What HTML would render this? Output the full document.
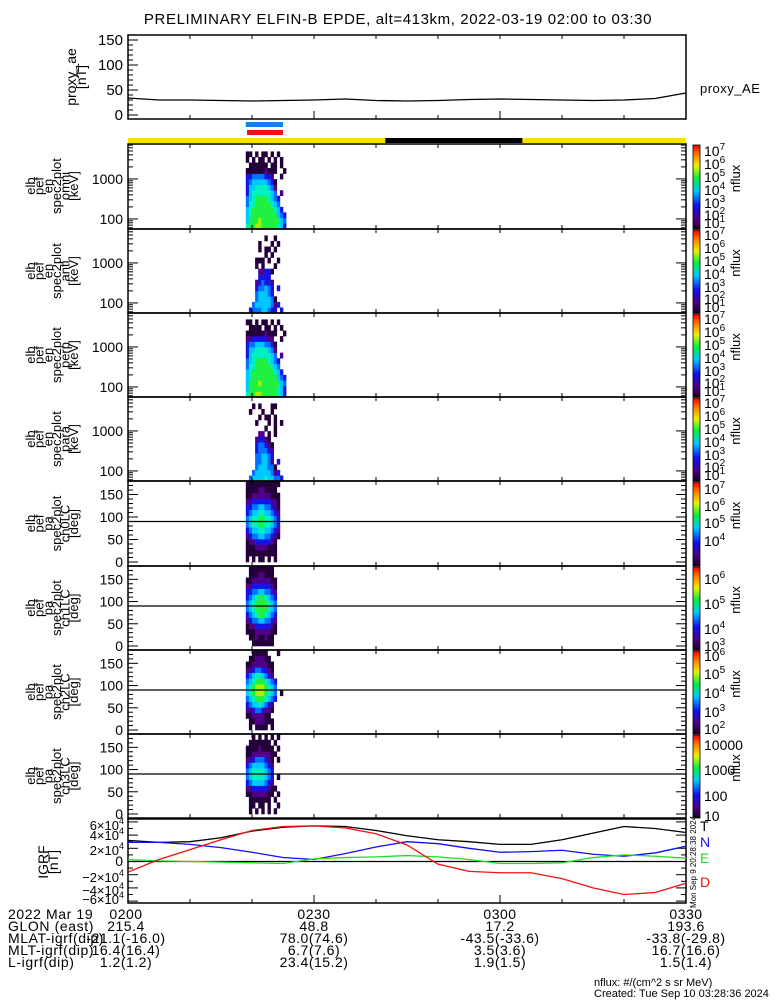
<!DOCTYPE html>
<html><head><meta charset="utf-8">
<style>
html,body{margin:0;padding:0;background:#fff;}
svg{display:block;font-family:"Liberation Sans",sans-serif;}
</style></head>
<body>
<svg id="chart" width="775" height="1000" viewBox="0 0 775 1000" xmlns="http://www.w3.org/2000/svg">
<text x="398" y="24" font-size="15" letter-spacing="0.6" text-anchor="middle">PRELIMINARY ELFIN-B EPDE, alt=413km, 2022-03-19 02:00 to 03:30</text>
</svg>
<script>
// ---------- data ----------
const timeSteps = [0,5,10,15,20,25,30,35,40,45,50,55,60,65,70,75,80,85,90];
const proxyAE = [34,30,30,29,28,29,30,32,29,28,29,31,32,31,30,29,30,33,44];
const igrfT = [3.2,2.9,3.0,3.6,4.6,5.2,5.4,5.3,4.7,3.9,3.3,3.0,2.6,2.6,3.3,4.3,5.3,5.0,4.4];
const igrfN = [2.9,2.9,2.6,2.1,1.4,0.6,0.3,1.2,2.2,3.0,2.7,2.0,1.4,1.5,1.7,1.1,0.8,1.3,2.3];
const igrfE = [0.3,0.1,0.0,-0.1,-0.2,-0.3,0.4,0.6,0.7,0.9,0.7,0.3,-0.3,-0.3,-0.2,0.6,1.0,0.8,0.5];
const igrfD = [-1.6,0.3,1.8,3.3,4.7,5.3,5.4,5.1,4.2,2.5,-0.4,-1.5,-1.7,-1.7,-2.6,-4.0,-5.0,-4.7,-3.3];
const specTimes = [19.0,19.5,20.0,20.5,21.0,21.5,22.0,22.5,23.0,23.5,24.0,24.5,25.0];
const energyEdges = [56,77,106,146,200,276,380,522,718,988,1360,1870,2570,3540,4870];
const paEdges = [0,13,26,39,51,64,77,90,103,116,129,141,154,167,180];
const timeLabels = ["0200","0230","0300","0330"];
const glonVals = ["215.4","48.8","17.2","193.6"];
const mlatVals = ["-21.1(-16.0)","78.0(74.6)","-43.5(-33.6)","-33.8(-29.8)"];
const mltVals = ["16.4(16.4)","6.7(7.6)","3.5(3.6)","16.7(16.6)"];
const lVals = ["1.2(1.2)","23.4(15.2)","1.9(1.5)","1.5(1.4)"];
const omniGrid = ["1101011010100","1010110101010","0111111011010","1111112111001","3344443320010","3455555431000","3556666542000","3566666654020","4567777654300","4667777765400","5677777776530","5677777777543","5777877777754","6778877777653"].reverse();
const antiGrid = ["0000001001000","0000100010100","0000101101000","0000001010000","0001110100100","0001010001000","0000223310000","0000333300000","0002343320000","0003445430300","0004555430000","0004555541000","0045555542300","0344455433030"].reverse();
const perpGrid = ["1101011010100","0111101101010","1111112111001","2233333220010","3445554431000","3556666542000","3566666654020","4567777654300","4667777765400","5677777776530","5677777777543","5777877777754","5777777777653","6778877777653"].reverse();
const paraGrid = ["0010100011000","0100010010000","0000101101000","0001000101010","0000001001000","0000220101000","0002332100000","0003443210000","0003444320000","0004455430000","0004455420300","0004555441000","0045555542300","0455556554430"].reverse();
const ch0Grid = ["1111111111100","1111221111000","1122222211100","2233333322100","3344554432100","3455665543200","4566776654300","4566776654300","3455665543200","2344554432100","1223333321000","1112222111000","1111111111000","1010110101000"].reverse();
const ch1Grid = ["0111111110000","0111221110000","1122222211000","2233333321000","3344554432000","3456776543000","4567777654000","4567777654000","3456776543000","2344554432000","1223333321000","1112222211000","0112112110000","0011111110000"].reverse();
const ch2Grid = ["0011111000100","0112221100000","1122222110000","2234433210000","3456654320000","4567776543000","5678887654000","5678887654010","4567776543000","3455654320000","2234432210000","1122221100000","0112221110000","0101111010000"].reverse();
const ch3Grid = ["0010101010100","0111111101000","1111211110100","1122222211000","2234443210100","3455554320000","4566665430000","4566665430100","3455554320000","2233333211000","1122222110100","0111111101000","0110110100100","0101010101000"].reverse();

// ---------- geometry ----------
const svg = document.getElementById('chart');
const NS = 'http://www.w3.org/2000/svg';
const X0 = 128, X1 = 686;
const xScale = t => X0 + (t/90)*(X1-X0);
function el(tag, attrs, parent){ const e=document.createElementNS(NS,tag); for(const k in attrs) e.setAttribute(k,attrs[k]); (parent||svg).appendChild(e); return e; }
function txt(s,x,y,attrs){ const e=el('text',Object.assign({x:x,y:y,'font-size':13},attrs||{})); e.textContent=s; return e; }

const levelColors = ['none','#24003a','#500088','#1414e6','#0072ff','#00c8ff','#00f0c0','#20f040','#a8f000'];

// top panel
const aeTop=35, aeBot=119;
const aeY = v => 115 - v*0.5;
el('rect',{x:X0,y:aeTop,width:X1-X0,height:aeBot-aeTop,fill:'none',stroke:'#000','stroke-width':1.5,});
[0,50,100,150].forEach(v=>{ txt(String(v),123,aeY(v)+5,{'text-anchor':'end','font-size':15,}); });
for(let v=0;v<=150;v+=10){ const L=(v%50===0)?10:5; el('line',{x1:X0,x2:X0+L,y1:aeY(v),y2:aeY(v),stroke:'#000'}); }
let aeD=''; timeSteps.forEach((t,i)=>{ aeD+=(i?'L':'M')+xScale(t)+','+aeY(proxyAE[i]); });
el('path',{d:aeD,fill:'none',stroke:'#000','stroke-width':1.3,});
txt('proxy_AE',700,93,{'font-size':13,'letter-spacing':0.5,});
function vlabel(lines,cx,cy,fs,name,step){ const g=el('g',{}); step=step||fs*0.72; const start=cx-(lines.length-1)*step/2; lines.forEach((s,i)=>{ const x=start+i*step+fs*0.35; const t=el('text',{x:x,y:cy,'font-size':fs,'text-anchor':'middle',transform:'rotate(-90 '+x+' '+cy+')'},g); t.textContent=s; }); }
vlabel(['proxy_ae','[nT]'],76,77,14,'proxy-ae-axis-title',10);
for(let t=0;t<=90;t+=10){ el('line',{x1:xScale(t),x2:xScale(t),y1:aeBot,y2:aeBot-(t%30===0?8:4),stroke:'#000'}); el('line',{x1:xScale(t),x2:xScale(t),y1:aeTop,y2:aeTop+4,stroke:'#000'}); }

// bars
el('rect',{x:xScale(19.0),y:122,width:xScale(25.0)-xScale(19.0),height:5,fill:'#1080f0',});
el('rect',{x:xScale(19.2),y:130,width:xScale(25.0)-xScale(19.2),height:5,fill:'#f01010',});
el('rect',{x:X0,y:138,width:X1-X0,height:5,fill:'#f8e000',});
el('rect',{x:xScale(41.5),y:138,width:xScale(63.6)-xScale(41.5),height:5,fill:'#000',});

// spectrogram panels
const panels=[
 {top:144,bot:229,grid:omniGrid,kind:'en',name:'omni',cb:[[7,150],[6,163],[5,176],[4,189],[3,202],[2,214],[1,222]],sup:true},
 {top:229,bot:313,grid:antiGrid,kind:'en',name:'anti',cb:[[7,234],[6,247],[5,260],[4,273],[3,286],[2,298],[1,306]],sup:true},
 {top:313,bot:397,grid:perpGrid,kind:'en',name:'perp',cb:[[7,318],[6,331],[5,344],[4,357],[3,370],[2,382],[1,390]],sup:true},
 {top:397,bot:481,grid:paraGrid,kind:'en',name:'para',cb:[[7,402],[6,415],[5,428],[4,441],[3,454],[2,466],[1,474]],sup:true},
 {top:481,bot:566,grid:ch0Grid,kind:'pa',name:'ch0LC',cb:[[7,488],[6,505],[5,522],[4,540]],sup:true},
 {top:566,bot:650,grid:ch1Grid,kind:'pa',name:'ch1LC',cb:[[6,578],[5,603],[4,628],[3,645]],sup:true},
 {top:650,bot:734,grid:ch2Grid,kind:'pa',name:'ch2LC',cb:[[6,655],[5,673],[4,692],[3,711],[2,728]],sup:true},
 {top:734,bot:818,grid:ch3Grid,kind:'pa',name:'ch3LC',cb:[['10000',744],['1000',769],['100',795],['10',815]],sup:false}
];
const defs=el('defs',{});
const grad=el('linearGradient',{id:'cbar',x1:0,y1:1,x2:0,y2:0},defs);
[['0','#1a0020'],['0.12','#4a0080'],['0.28','#1010f0'],['0.45','#00c8ff'],['0.6','#00f040'],['0.75','#f0f000'],['0.88','#ff8000'],['1','#f00000']].forEach(s=>el('stop',{offset:s[0],'stop-color':s[1]},grad));

panels.forEach((p,pi)=>{
  const g=el('g',{});
  let yS, edges;
  if(p.kind==='en'){ yS=E=>p.bot-(Math.log10(E)-Math.log10(56))*40; edges=energyEdges; }
  else { yS=a=>p.bot-4-a*((p.bot-4-p.top)/180); edges=paEdges; }
  const dt=specTimes[1]-specTimes[0];
  p.grid.forEach((row,ri)=>{
    for(let ci=0;ci<row.length;ci++){
      const lv=+row[ci]; if(!lv) continue;
      const x=xScale(specTimes[ci]); const w=xScale(specTimes[ci]+dt)-x;
      const y1=Math.max(p.top,yS(edges[ri+1])), y2=Math.min(p.bot,yS(edges[ri]));
      const r=el('rect',{x:x,y:y1,width:w+0.3,height:y2-y1+0.3,fill:levelColors[lv]},g);
      
      
    }
  });
  el('rect',{x:X0,y:p.top,width:X1-X0,height:p.bot-p.top,fill:'none',stroke:'#000','stroke-width':1.5,});
  for(let t=0;t<=90;t+=10){ el('line',{x1:xScale(t),x2:xScale(t),y1:p.bot,y2:p.bot-4,stroke:'#000'}); el('line',{x1:xScale(t),x2:xScale(t),y1:p.top,y2:p.top+4,stroke:'#000'}); }
  if(p.kind==='en'){
    [100,1000].forEach(v=>txt(String(v),123,yS(v)+5,{'text-anchor':'end','font-size':14,}));
    [60,70,80,90,100,200,300,400,500,600,700,800,900,1000,2000,3000,4000,5000,6000,7000].forEach(v=>{ const y=yS(v); if(y<p.top||y>p.bot) return; const L=(v===100||v===1000)?10:5; el('line',{x1:X0,x2:X0+L,y1:y,y2:y,stroke:'#000'}); el('line',{x1:X1,x2:X1-L,y1:y,y2:y,stroke:'#000'}); });
    vlabel(['elb','pef','en','spec2plot',p.name,'[keV]'],52,186+(p.top-144),13,'y-axis-title-'+p.name,8.6);
  } else {
    [0,50,100,150].forEach(v=>txt(String(v),123,yS(v)+5,{'text-anchor':'end','font-size':14,}));
    for(let v=0;v<=180;v+=10){ const y=yS(v); const L=(v%50===0)?10:5; el('line',{x1:X0,x2:X0+L,y1:y,y2:y,stroke:'#000'}); el('line',{x1:X1,x2:X1-L,y1:y,y2:y,stroke:'#000'}); }
    el('line',{x1:X0,x2:X1,y1:yS(90),y2:yS(90),stroke:'#000','stroke-width':1.3,});
    vlabel(['elb','pef','pa','spec2plot',p.name,'[deg]'],52,(p.top+p.bot)/2,13,'y-axis-title-'+p.name,8.6);
  }
  el('rect',{x:693,y:p.top+1,width:7,height:p.bot-p.top-1,fill:'url(#cbar)',stroke:'#000','stroke-width':0.8,});
  p.cb.forEach(c=>{
    const t=txt('',704,c[1]+6,{'font-size':14,});
    if(p.sup){ t.textContent='10'; const s=el('tspan',{dy:-6,'font-size':10},t); s.textContent=String(c[0]); }
    else t.textContent=c[0];
  });
  const cx=740, cy=(p.top+p.bot)/2-8;
  txt('nflux',cx,cy,{'font-size':13,'text-anchor':'middle',transform:'rotate(-90 '+cx+' '+cy+')',});
});

// IGRF panel
const gTop=819, gBot=903;
const gY = v => 861.5 - v*6.6;
el('rect',{x:X0,y:gTop,width:X1-X0,height:gBot-gTop,fill:'none',stroke:'#000','stroke-width':1.5,});
el('line',{x1:X0,x2:X1,y1:gY(0),y2:gY(0),stroke:'#000','stroke-width':1.3,});
for(let v=-6;v<=6;v+=1){ const L=(v%2===0)?10:5; el('line',{x1:X0,x2:X0+L,y1:gY(v),y2:gY(v),stroke:'#000'}); el('line',{x1:X1,x2:X1-L,y1:gY(v),y2:gY(v),stroke:'#000'}); }
for(let t=0;t<=90;t+=10){ el('line',{x1:xScale(t),x2:xScale(t),y1:gBot,y2:gBot-(t%30===0?8:4),stroke:'#000'}); }
[['6',826],['4',836],['2',851],['-2',878],['-4',891],['-6',900]].forEach(a=>{
  const t=txt('',124,a[1]+4,{'text-anchor':'end','font-size':13,});
  t.textContent=(a[0][0]==='-'?'\u2212'+a[0].slice(1):a[0])+'\u00d710'; const s=el('tspan',{dy:-6,'font-size':9},t); s.textContent='4'; });
txt('0',123,866,{'text-anchor':'end','font-size':14,});
vlabel(['IGRF','[nT]'],48,862,14,'igrf-axis-title',10);
[[igrfT,'#000','T',826],[igrfN,'#1010f0','N',842],[igrfE,'#20e020','E',858],[igrfD,'#f01010','D',882]].forEach(s=>{
  let d=''; timeSteps.forEach((t,i)=>{ d+=(i?'L':'M')+xScale(t)+','+gY(s[0][i]); });
  el('path',{d:d,fill:'none',stroke:s[1],'stroke-width':1.3,});
  txt(s[2],700,s[3]+5,{fill:s[1],'font-size':14,});
});
txt('Mon Sep  9 20:28:38 2024',696,862,{'font-size':8,'text-anchor':'middle',transform:'rotate(-90 696 862)',});

// bottom annotation
const rowY=[919,931,943,955,967];
const rowLabels=['2022 Mar 19','GLON (east)','MLAT-igrf(dip)','MLT-igrf(dip)','L-igrf(dip)'];
const rowVals=[timeLabels,glonVals,mlatVals,mltVals,lVals];
const colT=[0,30,60,90];
rowLabels.forEach((lab,i)=>{
  txt(lab,8,rowY[i],{'font-size':14,'letter-spacing':0.6,});
  rowVals[i].forEach((v,j)=>txt(v,xScale(colT[j])+(j===0?-2:0),rowY[i],{'font-size':14,'letter-spacing':0.5,'text-anchor':'middle',}));
});
txt('nflux: #/(cm^2 s sr MeV)',594,986,{'font-size':11,});
txt('Created: Tue Sep 10 03:28:36 2024',594,997,{'font-size':11,});
</script>
</body></html>
